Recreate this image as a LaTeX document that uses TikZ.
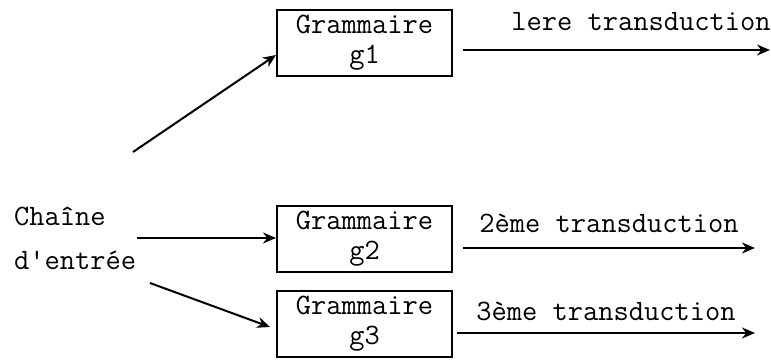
\documentclass[tikz,border=0pt]{standalone}
\usepackage{fontspec}
\usetikzlibrary{arrows.meta,positioning}

\tikzset{
  gram/.style={rectangle, draw, line width=1pt, minimum width=87.5pt, minimum height=33pt,
    align=center, inner sep=2pt, font=\ttfamily\fontsize{14.8}{15}\selectfont},
  lbl/.style={font=\ttfamily\fontsize{14.8}{15}\selectfont},
  fleche/.style={-{Stealth[length=6.5pt,width=5.5pt]}, line width=1pt},
}

\begin{document}
\begin{tikzpicture}[x=0.5pt,y=-0.5pt]
\useasboundingbox (0,0) rectangle (771,359);

% les trois grammaires
\node[gram] (g1) at (364.5,43) {Grammaire\\g1};
\node[gram] (g2) at (364.5,239) {Grammaire\\g2};
\node[gram] (g3) at (364.5,324) {Grammaire\\g3};

% entree
\node[lbl, anchor=west, align=left, font=\ttfamily\fontsize{14.8}{22}\selectfont] (entree) at (7,238) {Chaîne\\d'entrée};

\coordinate (i1) at (133,152);
\coordinate (i2) at (137,238);
\coordinate (i3) at (150,283);
\draw[fleche] (i1) -- (g1.west |- 0,55);
\draw[fleche] (i2) -- (g2.west |- 0,238);
\draw[fleche] (i3) -- ([xshift=-3pt]g3.west |- 0,327);

% sorties
\coordinate (o1) at (770,50);
\coordinate (o2) at (755,248);
\coordinate (o3) at (755,333);
\draw[fleche] ([xshift=5pt]g1.east |- o1) -- node[lbl, above=6pt, pos=0.58] {lere transduction} (o1);
\draw[fleche] ([xshift=5pt]g2.east |- o2) -- node[lbl, above=4pt] {2ème transduction} (o2);
\draw[fleche] ([xshift=2pt]g3.east |- o3) -- node[lbl, above=2pt] {3ème transduction} (o3);
\end{tikzpicture}
\end{document}
